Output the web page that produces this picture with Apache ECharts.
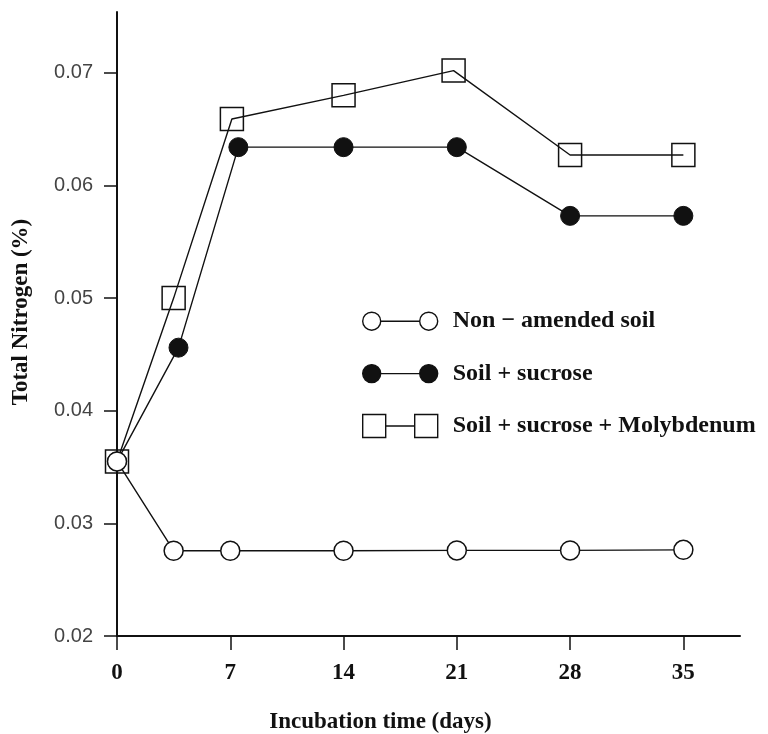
<!DOCTYPE html>
<html>
<head>
<meta charset="utf-8">
<script src="https://cdn.jsdelivr.net/npm/echarts@6/dist/echarts.min.js"></script>
<style>html,body{margin:0;padding:0;background:#fff;}#c{width:768px;height:734px;}</style>
</head>
<body>
<div id="c"></div>
<script>
// ---- data ----
const seriesNames = ['Non \u2212 amended soil', 'Soil + sucrose', 'Soil + sucrose + Molybdenum'];
const daysNon = [0, 3.5, 7, 14, 21, 28, 35];
const nonAmended = [0.0355, 0.02757, 0.02757, 0.02757, 0.0276, 0.0276, 0.02765];
const daysSuc = [0, 3.8, 7.5, 14, 21, 28, 35];
const sucrose = [0.0355, 0.0456, 0.0634, 0.0634, 0.0634, 0.0573, 0.0573];
const daysMo = [0, 3.5, 7.1, 14, 20.8, 28, 35];
const molybdenum = [0.0355, 0.0500, 0.0659, 0.0680, 0.0702, 0.0627, 0.0627];
const xTicks = [0, 7, 14, 21, 28, 35];
const yTicks = [0.02, 0.03, 0.04, 0.05, 0.06, 0.07];
const xTitle = 'Incubation time (days)';
const yTitle = 'Total Nitrogen (%)';

const pairs = (xs, ys) => xs.map((x, i) => [x, ys[i]]);
const serif = 'Liberation Serif';
const ink = '#111';

const chart = echarts.init(document.getElementById('c'), null, {renderer: 'canvas'});
const iconCircle = 'path://M0,0 M0,23 M0,11.5a9,9 0 1,0 18,0a9,9 0 1,0 -18,0z M18,11.5L57,11.5 M57,11.5a9,9 0 1,0 18,0a9,9 0 1,0 -18,0z';
const iconSquare = 'path://M0,0h23v23h-23z M23,11.5L52,11.5 M52,0h23v23h-23z';

chart.setOption({
  animation: false,
  backgroundColor: '#fff',
  grid: {left: 117, top: 12, right: 28, bottom: 98, containLabel: false, outerBoundsMode: 'none'},
  legend: {
    orient: 'vertical', left: 357, top: 304,
    itemWidth: 75, itemHeight: 23, itemGap: 28,
    textStyle: {fontFamily: serif, fontWeight: 'bold', fontSize: 24, color: ink, padding: [0, 0, 0, 10]},
    data: [
      {name: seriesNames[0], icon: iconCircle, itemStyle: {color: '#fff', borderColor: ink, borderWidth: 1.4}},
      {name: seriesNames[1], icon: iconCircle, itemStyle: {color: ink, borderColor: ink, borderWidth: 1.4}},
      {name: seriesNames[2], icon: iconSquare, itemStyle: {color: 'rgba(0,0,0,0)', borderColor: ink, borderWidth: 1.4}}
    ]
  },
  xAxis: {
    type: 'value', min: 0, max: 38.5,
    name: xTitle, nameLocation: 'middle', nameGap: 75,
    nameTextStyle: {fontFamily: serif, fontWeight: 'bold', fontSize: 23, color: ink, padding: [0, 96, 0, 0]},
    axisLine: {show: true, lineStyle: {color: ink, width: 2}},
    axisTick: {show: true, length: 14, customValues: xTicks, lineStyle: {color: ink, width: 1.5}},
    axisLabel: {customValues: xTicks, margin: 26, fontFamily: serif, fontWeight: 'bold', fontSize: 23, color: ink},
    splitLine: {show: false}
  },
  yAxis: {
    type: 'value', min: 0.02, max: 0.0754,
    name: yTitle, nameLocation: 'middle', nameGap: 84, nameRotate: 90,
    nameTextStyle: {fontFamily: serif, fontWeight: 'bold', fontSize: 23, color: ink, padding: [0, 0, 0, 24]},
    axisLine: {show: true, lineStyle: {color: ink, width: 2}},
    axisTick: {show: true, length: 13, customValues: yTicks, lineStyle: {color: ink, width: 1.5}},
    axisLabel: {customValues: yTicks, margin: 24, fontFamily: 'Liberation Sans', fontSize: 20, color: '#444',
      formatter: v => v.toFixed(2)},
    splitLine: {show: false}
  },
  series: [
    {
      name: seriesNames[2], type: 'line', z: 2,
      data: pairs(daysMo, molybdenum),
      symbol: 'rect', symbolSize: 23, showAllSymbol: true,
      lineStyle: {color: ink, width: 1.4},
      itemStyle: {color: 'rgba(0,0,0,0)', borderColor: ink, borderWidth: 1.5}
    },
    {
      name: seriesNames[1], type: 'line', z: 3,
      data: pairs(daysSuc, sucrose),
      symbol: 'circle', symbolSize: 19, showAllSymbol: true,
      lineStyle: {color: ink, width: 1.4},
      itemStyle: {color: ink, borderColor: ink, borderWidth: 1}
    },
    {
      name: seriesNames[0], type: 'line', z: 4,
      data: pairs(daysNon, nonAmended),
      symbol: 'circle', symbolSize: 19, showAllSymbol: true,
      lineStyle: {color: ink, width: 1.4},
      itemStyle: {color: '#fff', borderColor: ink, borderWidth: 1.5}
    }
  ]
});
</script>
</body>
</html>
